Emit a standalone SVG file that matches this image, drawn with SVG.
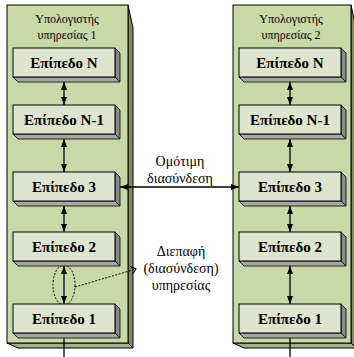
<svg xmlns="http://www.w3.org/2000/svg" width="354" height="357" viewBox="0 0 354 357">
<style>
.pf{fill:#c9d8a8;stroke:#000;stroke-width:1}
.ps{fill:#7e8c5e;stroke:#000;stroke-width:1}
.pb{fill:#a3b282;stroke:#000;stroke-width:1}
.bf{fill:#dfe4cf;stroke:#000;stroke-width:1}
.bs{fill:#8a8a8a;stroke:#000;stroke-width:0.8}
.bb{fill:#a8a8a8;stroke:#000;stroke-width:0.8}
.t{font-family:"Liberation Serif","DejaVu Serif",serif;fill:#000;text-anchor:middle}
.title{font-size:12px}
.lbl{font-size:15px;font-weight:bold}
.note{font-size:14px}
.ln{stroke:#000;stroke-width:1.3;fill:none}
.dot{stroke:#000;stroke-width:1;fill:none;stroke-dasharray:2,1.5}
</style>
<defs>
<marker id="ah" viewBox="0 0 8 6" refX="8" refY="3" markerWidth="8" markerHeight="6" markerUnits="userSpaceOnUse" orient="auto-start-reverse">
<path d="M0,0 L8,3 L0,6 z" fill="#000"/>
</marker>
<marker id="oa" viewBox="0 0 6 8" refX="5" refY="4" markerWidth="6" markerHeight="8" markerUnits="userSpaceOnUse" orient="auto">
<path d="M0,0 L5,4 L0,8" fill="none" stroke="#000" stroke-width="1"/>
</marker>
<g id="box">
<polygon class="bs" points="102,0 107,5 107,34 102,29"/>
<polygon class="bb" points="0,29 102,29 107,34 5,34"/>
<rect class="bf" x="0" y="0" width="102" height="29"/>
</g>
</defs>

<g id="host1">
<polygon class="ps" points="128,5 133,28 133,348 128,343"/>
<polygon class="pb" points="7,343 128,343 133,348 18,348"/>
<rect class="pf" x="7" y="5" width="121" height="338"/>
<text class="t title" x="67" y="23">Υπολογιστής</text>
<text class="t title" x="67" y="39">υπηρεσίας 1</text>
</g>
<g id="host2">
<polygon class="ps" points="351,5 356,28 356,348 351,343"/>
<polygon class="pb" points="233,343 351,343 356,348 244,348"/>
<rect class="pf" x="233" y="5" width="118" height="338"/>
<text class="t title" x="291" y="23">Υπολογιστής</text>
<text class="t title" x="291" y="39">υπηρεσίας 2</text>
</g>

<g id="connectors">
<line class="ln" x1="64" y1="82" x2="64" y2="105" marker-start="url(#ah)" marker-end="url(#ah)"/>
<line class="ln" x1="64" y1="139" x2="64" y2="172" marker-start="url(#ah)" marker-end="url(#ah)"/>
<line class="ln" x1="64" y1="206" x2="64" y2="232" marker-start="url(#ah)" marker-end="url(#ah)"/>
<line class="ln" x1="64" y1="266" x2="64" y2="304" marker-start="url(#ah)" marker-end="url(#ah)"/>
<line class="ln" x1="64" y1="333" x2="64" y2="357"/>
<line class="ln" x1="290" y1="82" x2="290" y2="105" marker-start="url(#ah)" marker-end="url(#ah)"/>
<line class="ln" x1="290" y1="139" x2="290" y2="172" marker-start="url(#ah)" marker-end="url(#ah)"/>
<line class="ln" x1="290" y1="206" x2="290" y2="232" marker-start="url(#ah)" marker-end="url(#ah)"/>
<line class="ln" x1="290" y1="266" x2="290" y2="304" marker-start="url(#ah)" marker-end="url(#ah)"/>
<line class="ln" x1="290" y1="333" x2="290" y2="357"/>
<line class="ln" x1="120" y1="187" x2="239" y2="187" marker-start="url(#ah)" marker-end="url(#ah)"/>
<ellipse class="dot" cx="64" cy="285" rx="11" ry="20"/>
<line class="dot" x1="75" y1="287" x2="136" y2="269" marker-end="url(#oa)"/>
</g>

<g id="l1N"><use href="#box" x="13" y="48"/><text class="t lbl" x="64" y="68">Επίπεδο N</text></g>
<g id="l1N1"><use href="#box" x="13" y="105"/><text class="t lbl" x="64" y="125">Επίπεδο N-1</text></g>
<g id="l13"><use href="#box" x="13" y="172"/><text class="t lbl" x="64" y="192">Επίπεδο 3</text></g>
<g id="l12"><use href="#box" x="13" y="232"/><text class="t lbl" x="64" y="252">Επίπεδο 2</text></g>
<g id="l11"><use href="#box" x="13" y="304"/><text class="t lbl" x="64" y="324">Επίπεδο 1</text></g>

<g id="l2N"><use href="#box" x="239" y="48"/><text class="t lbl" x="290" y="68">Επίπεδο N</text></g>
<g id="l2N1"><use href="#box" x="239" y="105"/><text class="t lbl" x="290" y="125">Επίπεδο N-1</text></g>
<g id="l23"><use href="#box" x="239" y="172"/><text class="t lbl" x="290" y="192">Επίπεδο 3</text></g>
<g id="l22"><use href="#box" x="239" y="232"/><text class="t lbl" x="290" y="252">Επίπεδο 2</text></g>
<g id="l21"><use href="#box" x="239" y="304"/><text class="t lbl" x="290" y="324">Επίπεδο 1</text></g>

<g id="peer-label">
<text class="t note" x="180" y="166">Ομότιμη</text>
<text class="t note" x="180" y="183">διασύνδεση</text>
</g>
<g id="iface-label">
<text class="t note" x="181" y="256">Διεπαφή</text>
<text class="t note" x="181" y="273">(διασύνδεση)</text>
<text class="t note" x="181" y="290">υπηρεσίας</text>
</g>
</svg>
